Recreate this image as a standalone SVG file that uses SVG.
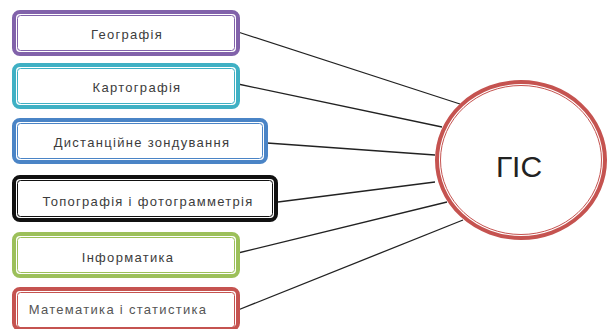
<svg xmlns="http://www.w3.org/2000/svg" width="608" height="329" viewBox="0 0 608 329">
<style>
.o{fill:#fff;stroke-width:4}
.i{fill:none;stroke-width:1}
.t{font-family:"Liberation Sans",Arial,sans-serif;font-size:13px;letter-spacing:1.3px;fill:#3c3c3c;text-anchor:middle}
.c{stroke:#222;stroke-width:1.3;fill:none}
</style>
<rect width="608" height="329" fill="#fff"/>
<g id="connectors">
<line class="c" x1="238" y1="32" x2="460" y2="104"/>
<line class="c" x1="238" y1="84" x2="442" y2="127"/>
<line class="c" x1="267" y1="143" x2="435" y2="155"/>
<line class="c" x1="278" y1="202" x2="435" y2="182"/>
<line class="c" x1="238" y1="253" x2="447" y2="202"/>
<line class="c" x1="238" y1="310" x2="463" y2="220"/>
</g>
<g id="n1"><rect class="o" x="14" y="12" width="224" height="42" rx="6" stroke="#8162aa"/><rect class="i" x="17.5" y="15.5" width="217" height="35" rx="3" stroke="#8162aa"/><text class="t" x="127" y="39">Географія</text></g>
<g id="n2"><rect class="o" x="14" y="65" width="224" height="42" rx="6" stroke="#3fb0c4"/><rect class="i" x="17.5" y="68.5" width="217" height="35" rx="3" stroke="#3fb0c4"/><text class="t" x="137" y="92">Картографія</text></g>
<g id="n3"><rect class="o" x="14" y="120" width="252" height="42" rx="6" stroke="#4a84c6"/><rect class="i" x="17.5" y="123.5" width="245" height="35" rx="3" stroke="#4a84c6"/><text class="t" x="142" y="147">Дистанційне зондування</text></g>
<g id="n4"><rect class="o" x="14" y="177" width="262" height="43" rx="6" stroke="#111"/><rect class="i" x="17.5" y="180.5" width="255" height="36" rx="3" stroke="#111"/><text class="t" x="148" y="206">Топографія і фотограмметрія</text></g>
<g id="n5"><rect class="o" x="14" y="234" width="224" height="42" rx="6" stroke="#9cc05a"/><rect class="i" x="17.5" y="237.5" width="217" height="35" rx="3" stroke="#9cc05a"/><text class="t" x="128" y="262">Інформатика</text></g>
<g id="n6"><rect class="o" x="14" y="289" width="224" height="40" rx="6" stroke="#c55350"/><rect class="i" x="17.5" y="292.5" width="217" height="35" rx="3" stroke="#c55350"/><text class="t" x="118" y="314" style="fill:#555">Математика і статистика</text></g>
<g id="gis"><ellipse cx="521" cy="160" rx="84" ry="78" fill="#fff" stroke="#c55350" stroke-width="4"/><ellipse cx="521" cy="160" rx="80.5" ry="74.5" fill="none" stroke="#c55350" stroke-width="1"/><text x="519" y="177" font-family="Liberation Sans,Arial,sans-serif" font-size="30" fill="#222" text-anchor="middle">ГІС</text></g>
</svg>
